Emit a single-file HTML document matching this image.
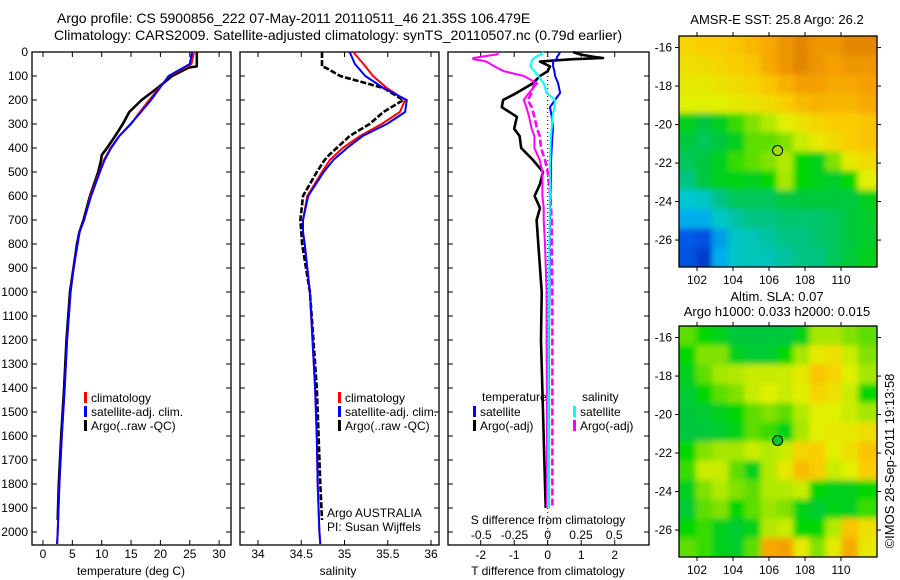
<!DOCTYPE html>
<html><head><meta charset="utf-8"><style>
html,body{margin:0;padding:0;background:#fff;}
svg{display:block;font-family:"Liberation Sans",sans-serif;font-size:12px;}
</style></head><body>
<svg id="fig" width="900" height="580" viewBox="0 0 900 580">
<defs>
<filter id="blur" x="-5%" y="-5%" width="110%" height="110%"><feGaussianBlur stdDeviation="3"/></filter>
<clipPath id="clip1"><rect x="679" y="36" width="198" height="231"/></clipPath>
<clipPath id="clip2"><rect x="679" y="326" width="198" height="231"/></clipPath>
</defs>
<text x="57" y="23" style="font-size:14px">Argo profile: CS 5900856_222 07-May-2011 20110511_46 21.35S 106.479E</text>
<text x="54" y="40" style="font-size:14px" textLength="568" lengthAdjust="spacingAndGlyphs">Climatology: CARS2009. Satellite-adjusted climatology: synTS_20110507.nc (0.79d earlier)</text>
<g id="g1"></g>
<g id="g2"></g>
<g id="g3"></g>
<g id="m1"></g>
<g id="m2"></g>
<text x="777" y="24" text-anchor="middle" style="font-size:13px">AMSR-E SST: 25.8 Argo: 26.2</text>
<text x="777" y="301" text-anchor="middle" style="font-size:13px">Altim. SLA: 0.07</text>
<text x="777" y="316" text-anchor="middle" style="font-size:13px">Argo h1000: 0.033 h2000: 0.015</text>
<text transform="translate(894,461) rotate(-90)" text-anchor="middle" style="font-size:13px">©IMOS 28-Sep-2011 19:13:58</text>
</svg>
<script>
// ---------- profile data ----------
const depthClim = [0,50,100,150,200,250,300,350,400,450,500,600,700,750,800,900,1000,1200,1400,1600,1800,2000,2050];
const climT = [25.7,25.3,21.5,19.8,18.1,16.5,15.0,13.0,11.5,10.4,9.6,8.1,7.0,6.2,5.9,5.2,4.7,4.1,3.7,3.2,2.8,2.5,2.4];
const satT  = [25.4,25.0,21.4,19.9,18.4,16.7,14.9,13.0,11.6,10.5,9.7,8.2,7.0,6.2,5.9,5.2,4.7,4.1,3.7,3.2,2.8,2.5,2.4];
const depthArgo = [0,60,65,100,150,200,250,300,350,400,430,450,500,600,700,750,800,1000,1200,1400,1600,1800,1950];
const argoT = [26.2,26.2,24.8,22.0,19.5,16.8,14.7,13.6,12.3,10.9,10.0,9.9,9.4,8.0,6.9,6.2,5.8,4.6,4.0,3.6,3.1,2.7,2.5];
const climS = [35.10,35.22,35.33,35.49,35.70,35.64,35.43,35.18,34.98,34.83,34.74,34.57,34.52,34.52,34.54,34.57,34.60,34.63,34.66,34.68,34.69,34.71,34.72];
const satS  = [35.06,35.12,35.24,35.45,35.72,35.70,35.49,35.21,35.03,34.87,34.76,34.58,34.52,34.52,34.54,34.57,34.60,34.63,34.66,34.68,34.69,34.71,34.72];
const argoS = [34.74,34.74,34.78,34.95,35.45,35.68,35.45,35.29,35.06,34.91,34.82,34.77,34.68,34.52,34.49,34.50,34.51,34.60,34.64,34.68,34.70,34.72,34.74];
// difference panel
const depthDiff = [0,10,20,25,30,35,40,60,80,100,130,170,200,230,270,320,350,400,450,500,550,600,650,700,800,1000,1200,1500,1800,1900];
const satTdiff  = [0.37,0.33,0.28,0.27,0.27,0.2,0.16,0.16,0.2,0.22,0.31,0.37,0.22,0.07,0.12,0.16,0.14,0.12,0.1,0.1,0.09,0.08,0.07,0.07,0.06,0.05,0.04,0.03,0.02,0.02];
const argoTdiff = [0.76,0.96,1.36,1.65,0.76,0.2,-0.23,0.07,0,-0.23,-0.44,-0.92,-1.33,-1.37,-0.92,-1.0,-0.84,-0.79,-0.44,-0.14,-0.23,-0.39,-0.23,-0.33,-0.28,-0.18,-0.2,-0.14,-0.08,-0.06];
const satSdiff  = [-0.033,-0.05,-0.09,-0.1,-0.11,-0.12,-0.12,-0.13,-0.1,-0.07,-0.03,-0.008,0.055,0.05,0.035,0.03,0.025,0.02,0.018,0.017,0.017,0.016,0.015,0.015,0.013,0.01,0.008,0.005,0.003,0.002];
const argoSdiff = [-0.37,-0.38,-0.5,-0.56,-0.56,-0.5,-0.46,-0.4,-0.33,-0.18,-0.08,-0.14,-0.18,-0.16,-0.14,-0.12,-0.1,-0.1,-0.06,-0.04,-0.04,-0.04,-0.03,-0.03,-0.02,-0.008,-0.008,-0.005,-0.005,-0.005];
const argoSdiffQC = [null,null,null,null,null,null,null,null,null,null,-0.1,-0.12,-0.15,-0.12,-0.1,-0.08,-0.06,-0.05,-0.02,0.0,0.01,0.02,0.025,0.03,0.03,0.035,0.035,0.035,0.035,0.035];
const depthTicks = [0,100,200,300,400,500,600,700,800,900,1000,1100,1200,1300,1400,1500,1600,1700,1800,1900,2000];
const tempTicks = [0,5,10,15,20,25,30];
const salTicks = ['34','34.5','35','35.5','36'];
const tDiffTicks = [-2,-1,0,1,2];
const sDiffTicks = ['-0.5','-0.25','0','0.25','0.5'];
// ---------- map data (colour index 0..1) ----------
const mapLons = [101.5,102.4,103.3,104.2,105.1,106,106.9,107.8,108.7,109.6,110.5,111.4];
const mapLats = [-15.9,-16.9,-17.9,-18.9,-19.9,-20.9,-21.9,-22.9,-23.9,-24.9,-25.9,-26.9];
const sstGrid = [
[0.78,0.8,0.8,0.82,0.85,0.88,0.92,0.95,0.92,0.92,0.95,0.95],
[0.75,0.76,0.78,0.8,0.82,0.88,0.92,0.95,0.92,0.9,0.92,0.92],
[0.72,0.72,0.74,0.76,0.78,0.82,0.86,0.9,0.9,0.88,0.88,0.9],
[0.7,0.7,0.7,0.72,0.74,0.76,0.8,0.84,0.86,0.85,0.85,0.88],
[0.5,0.45,0.5,0.58,0.62,0.66,0.7,0.74,0.78,0.8,0.8,0.82],
[0.45,0.42,0.45,0.5,0.6,0.6,0.62,0.68,0.72,0.76,0.8,0.82],
[0.42,0.45,0.5,0.58,0.6,0.62,0.66,0.55,0.5,0.62,0.72,0.76],
[0.38,0.45,0.5,0.52,0.5,0.55,0.65,0.55,0.5,0.48,0.55,0.7],
[0.28,0.3,0.38,0.42,0.42,0.42,0.45,0.45,0.45,0.45,0.45,0.5],
[0.22,0.22,0.3,0.35,0.38,0.38,0.4,0.4,0.4,0.42,0.45,0.48],
[0.12,0.1,0.2,0.3,0.32,0.35,0.38,0.38,0.4,0.42,0.45,0.48],
[0.1,0.05,0.22,0.3,0.32,0.32,0.35,0.38,0.38,0.42,0.45,0.5]];
const slaGrid = [
[0.6,0.55,0.5,0.45,0.45,0.45,0.45,0.5,0.65,0.65,0.62,0.6],
[0.55,0.62,0.62,0.5,0.47,0.47,0.55,0.65,0.72,0.75,0.68,0.62],
[0.5,0.6,0.65,0.66,0.68,0.68,0.68,0.72,0.82,0.78,0.7,0.65],
[0.47,0.55,0.6,0.62,0.68,0.7,0.68,0.7,0.78,0.74,0.68,0.55],
[0.45,0.47,0.5,0.55,0.6,0.62,0.6,0.66,0.7,0.7,0.68,0.65],
[0.45,0.45,0.47,0.52,0.6,0.58,0.52,0.65,0.7,0.72,0.72,0.75],
[0.55,0.62,0.65,0.65,0.68,0.66,0.68,0.78,0.8,0.7,0.75,0.82],
[0.58,0.68,0.68,0.6,0.5,0.66,0.72,0.84,0.8,0.68,0.7,0.8],
[0.5,0.62,0.66,0.62,0.6,0.66,0.66,0.68,0.55,0.5,0.5,0.55],
[0.47,0.6,0.62,0.55,0.6,0.64,0.62,0.52,0.47,0.52,0.5,0.58],
[0.55,0.58,0.5,0.47,0.52,0.66,0.68,0.55,0.55,0.66,0.82,0.75],
[0.6,0.58,0.5,0.48,0.6,0.88,0.9,0.72,0.62,0.72,0.88,0.72]];
const lonTicks = [102,104,106,108,110];
const latTicks = [-16,-18,-20,-22,-24,-26];
const argoLon = 106.479, argoLat = -21.35;

const NS = 'http://www.w3.org/2000/svg';
function mk(parent, tag, attrs, text){const e=document.createElementNS(NS,tag);for(const k in attrs)e.setAttribute(k,attrs[k]);if(text!==undefined)e.textContent=text;parent.appendChild(e);return e;}
const PT=52, PB=545;
const yD = d => 52 + d*0.24;

function panelFrame(g, x0, x1){
  const r=mk(g,'rect',{x:x0,y:PT,width:x1-x0,height:PB-PT,fill:'none',stroke:'#000','stroke-width':1.3});
  
  
}
function depthTicksOn(g,x0,x1,labels){
  depthTicks.forEach(d=>{
    const y=yD(d);
    mk(g,'line',{x1:x0,y1:y,x2:x0+5,y2:y,stroke:'#000'});
    mk(g,'line',{x1:x1,y1:y,x2:x1-5,y2:y,stroke:'#000'});
    if(labels){const t=mk(g,'text',{x:28,y:y+4,'text-anchor':'end'},String(d));
      
      }
  });
}
function line(g, xs, ds, xf, color, w, dash, name){
  let p='';xs.forEach((v,i)=>{if(v===null)return;p+=(p?'L':'M')+xf(v).toFixed(1)+','+yD(ds[i]).toFixed(1);});
  const e=mk(g,'path',{d:p,fill:'none',stroke:color,'stroke-width':w,'stroke-linejoin':'round'});
  if(dash)e.setAttribute('stroke-dasharray',dash);
  
  
}
function legend(g,x,y,color,label,name){
  mk(g,'rect',{x:x,y:y-10,width:3,height:11,fill:color});
  const t=mk(g,'text',{x:x+7,y:y},label);
  
  
}

// ---------- panel 1: temperature ----------
const g1=document.getElementById('g1');
const xT = t => 43 + t*5.87;
panelFrame(g1,32,231); depthTicksOn(g1,32,231,true);
tempTicks.forEach(t=>{const x=xT(t);mk(g1,'line',{x1:x,y1:PT,x2:x,y2:PT+5,stroke:'#000'});mk(g1,'line',{x1:x,y1:PB,x2:x,y2:PB-5,stroke:'#000'});
  const l=mk(g1,'text',{x:x,y:558,'text-anchor':'middle'},String(t));
  
  });
mk(g1,'text',{x:131,y:575,'text-anchor':'middle',},'temperature (deg C)');
line(g1,argoT,depthArgo,xT,'#000',2.6,null,'argo-temperature-line');
line(g1,climT,depthClim,xT,'#f00',2,null,'clim-temperature-line');
line(g1,satT,depthClim,xT,'#00f',2,null,'sat-temperature-line');
legend(g1,84,402,'#f00','climatology','legend-climatology');
legend(g1,84,416,'#00f','satellite-adj. clim.','legend-satellite');
legend(g1,84,430,'#000','Argo(..raw -QC)','legend-argo');

// ---------- panel 2: salinity ----------
const g2=document.getElementById('g2');
const xS = s => 258 + (s-34)*86.5;
panelFrame(g2,240,439); depthTicksOn(g2,240,439,false);
salTicks.forEach(s=>{const x=xS(parseFloat(s));mk(g2,'line',{x1:x,y1:PT,x2:x,y2:PT+5,stroke:'#000'});mk(g2,'line',{x1:x,y1:PB,x2:x,y2:PB-5,stroke:'#000'});
  const l=mk(g2,'text',{x:x,y:558,'text-anchor':'middle'},s);
  
  });
mk(g2,'text',{x:338,y:575,'text-anchor':'middle',},'salinity');
line(g2,argoS,depthArgo,xS,'#000',2.6,'6,2','argo-salinity-line');
line(g2,climS,depthClim,xS,'#f00',2,null,'clim-salinity-line');
line(g2,satS,depthClim,xS,'#00f',2,null,'sat-salinity-line');
legend(g2,338,402,'#f00','climatology','legend-climatology-s');
legend(g2,338,416,'#00f','satellite-adj. clim.','legend-satellite-s');
legend(g2,338,430,'#000','Argo(..raw -QC)','legend-argo-s');
mk(g2,'text',{x:327,y:517,},'Argo AUSTRALIA');
mk(g2,'text',{x:327,y:531,},'PI: Susan Wijffels');

// ---------- panel 3: differences ----------
const g3=document.getElementById('g3');
const xTd = t => 547.7 + t*33.5;
const xSd = s => 547.7 + s*133;
panelFrame(g3,448,649); depthTicksOn(g3,448,649,false);
tDiffTicks.forEach(t=>{const x=xTd(t);mk(g3,'line',{x1:x,y1:PT,x2:x,y2:PT+5,stroke:'#000'});mk(g3,'line',{x1:x,y1:PB,x2:x,y2:PB-5,stroke:'#000'});
  const l=mk(g3,'text',{x:x,y:559,'text-anchor':'middle'},String(t));
  
  });
sDiffTicks.forEach(s=>{const l=mk(g3,'text',{x:xSd(parseFloat(s)),y:539,'text-anchor':'middle'},s);
  
  });
mk(g3,'text',{x:548,y:524,'text-anchor':'middle',},'S difference from climatology');
mk(g3,'text',{x:548,y:575,'text-anchor':'middle',},'T difference from climatology');
mk(g3,'line',{x1:xTd(0),y1:PT,x2:xTd(0),y2:PB,stroke:'#000','stroke-dasharray':'1,3',});
line(g3,argoTdiff,depthDiff,xTd,'#000',2.6,null,'argo-tdiff-line');
line(g3,satTdiff,depthDiff,xTd,'#00f',2,null,'sat-tdiff-line');
line(g3,argoSdiff,depthDiff,xSd,'#f0f',2,null,'argo-sdiff-line');
line(g3,argoSdiffQC,depthDiff,xSd,'#f0f',2.6,'7,3','argo-sdiff-qc-line');
line(g3,satSdiff,depthDiff,xSd,'#0ff',2,null,'sat-sdiff-line');
mk(g3,'text',{x:482,y:401,},'temperature');
mk(g3,'text',{x:582,y:401,},'salinity');
legend(g3,473,416,'#00f','satellite','legend-t-sat');
legend(g3,473,430,'#000','Argo(-adj)','legend-t-argo');
legend(g3,573,416,'#0ff','satellite','legend-s-sat');
legend(g3,573,430,'#f0f','Argo(-adj)','legend-s-argo');

// ---------- maps ----------
const cstops=[[0,[0,40,190]],[0.12,[0,90,230]],[0.25,[0,200,235]],[0.35,[0,195,160]],[0.45,[0,200,60]],[0.55,[0,215,0]],[0.62,[130,225,0]],[0.7,[225,240,0]],[0.8,[250,205,0]],[0.9,[245,160,0]],[1,[210,110,0]]];
function cmap(v){for(let i=1;i<cstops.length;i++){if(v<=cstops[i][0]){const a=cstops[i-1],b=cstops[i],f=(v-a[0])/(b[0]-a[0]);return 'rgb('+a[1].map((c,k)=>Math.round(c+(b[1][k]-c)*f)).join(',')+')';}}return 'rgb(210,110,0)';}
function drawMap(id,grid,top,bot,dotFill,clip){
  const g=document.getElementById(id);
  const L=679,R=877;
  const xL=lon=>L+(lon-101.0)*(R-L)/11;
  const yL=lat=>top+(-15.4-lat)*(bot-top)/12;
  const cw=(R-L)/12, ch=(bot-top)/12;
  const cg=mk(g,'g',{'clip-path':'url(#'+clip+')'});
  const bg=mk(cg,'g',{filter:'url(#blur)'});
  const n=grid.length, m=grid[0].length;
  grid.forEach((row,r)=>row.forEach((v,c)=>{
    let x0=xL(mapLons[c])-cw/2, y0=yL(mapLats[r])-ch/2, w=cw+0.6, h=ch+0.6;
    if(c===0){x0-=12;w+=12;} if(c===m-1){w+=12;}
    if(r===0){y0-=12;h+=12;} if(r===n-1){h+=12;}
    const e=mk(bg,'rect',{x:x0.toFixed(2),y:y0.toFixed(2),width:w.toFixed(2),height:h.toFixed(2),fill:cmap(v)});
    
    
  }));
  mk(g,'rect',{x:L,y:top,width:R-L,height:bot-top,fill:'none',stroke:'#000','stroke-width':1.3});
  lonTicks.forEach(l=>{const x=xL(l);mk(g,'line',{x1:x,y1:top,x2:x,y2:top-4,stroke:'#000'});mk(g,'line',{x1:x,y1:bot,x2:x,y2:bot+4,stroke:'#000'});
    const t=mk(g,'text',{x:x,y:bot+17,'text-anchor':'middle'},String(l));
    
    });
  latTicks.forEach(l=>{const y=yL(l);mk(g,'line',{x1:L,y1:y,x2:L-4,y2:y,stroke:'#000'});mk(g,'line',{x1:R,y1:y,x2:R+4,y2:y,stroke:'#000'});
    const t=mk(g,'text',{x:672,y:y+4,'text-anchor':'end'},String(l));
    
    });
  const d=mk(g,'circle',{cx:xL(argoLon),cy:yL(argoLat),r:5,fill:dotFill,stroke:'#000','stroke-width':1});
  
  
}
drawMap('m1',sstGrid,36,267,'#a0e000','clip1');
drawMap('m2',slaGrid,326,557,'#00c830','clip2');
</script>
</body></html>
